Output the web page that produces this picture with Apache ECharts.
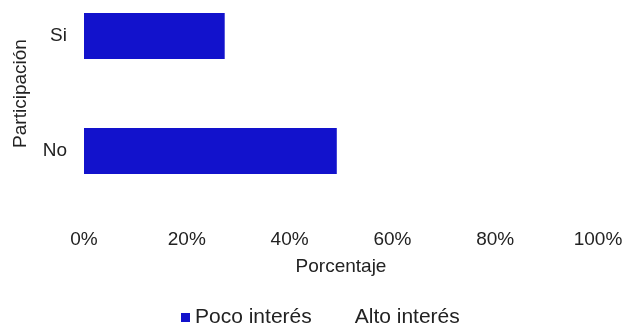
<!DOCTYPE html>
<html>
<head>
<meta charset="utf-8">
<script src="https://cdn.jsdelivr.net/npm/echarts@6/dist/echarts.min.js"></script>
<style>html,body{margin:0;padding:0;background:#fff}#c{width:627px;height:323px}</style>
</head>
<body>
<div id="c"></div>
<script>
var categories = ['No', 'Si'];
var pocoInteres = [49.2, 27.4];
var altoInteres = [50.8, 72.6];
var xTicks = [0, 20, 40, 60, 80, 100];

var font = 'Liberation Sans';
var chart = echarts.init(document.getElementById('c'), null, {renderer: 'canvas'});
chart.setOption({
  backgroundColor: '#ffffff',
  animation: false,
  textStyle: {fontFamily: font},
  grid: {left: 84, right: 29, top: 36, bottom: 172, containLabel: false},
  legend: {
    left: 176, top: 302,
    itemWidth: 9, itemHeight: 9, itemGap: 29,
    icon: 'rect',
    textStyle: {fontFamily: font, fontSize: 21, color: '#222'},
    data: ['Poco interés', 'Alto interés']
  },
  xAxis: {
    type: 'value', min: xTicks[0], max: xTicks[xTicks.length - 1], interval: 20,
    axisLine: {show: false}, axisTick: {show: false}, splitLine: {show: false},
    axisLabel: {formatter: '{value}%', fontSize: 19, color: '#222', margin: 79, fontFamily: font},
    name: 'Porcentaje', nameLocation: 'middle', nameGap: 106,
    nameTextStyle: {fontSize: 19, color: '#222', fontFamily: font}
  },
  yAxis: {
    type: 'category', data: categories, boundaryGap: false,
    axisLine: {show: false}, axisTick: {show: false}, splitLine: {show: false},
    axisLabel: {fontSize: 19, color: '#222', margin: 17, fontFamily: font},
    name: 'Participación', nameLocation: 'middle', nameGap: 54, nameRotate: 90,
    nameTextStyle: {fontSize: 19, color: '#222', fontFamily: font}
  },
  series: [
    {name: 'Poco interés', type: 'bar', stack: 't', data: pocoInteres, barWidth: 46,
     itemStyle: {color: '#1212cc'}},
    {name: 'Alto interés', type: 'bar', stack: 't', data: altoInteres, barWidth: 46,
     itemStyle: {color: '#ffffff'}}
  ]
});
</script>
</body>
</html>
